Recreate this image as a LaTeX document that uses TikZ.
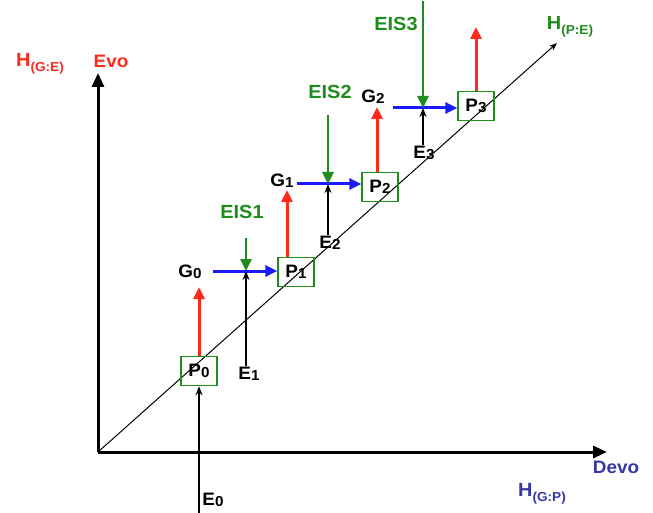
\documentclass[tikz,border=0pt]{standalone}
\usepackage{fontspec}
\setmainfont{Liberation Sans}
\usetikzlibrary{arrows.meta}
\definecolor{evored}{HTML}{FF2A1A}
\definecolor{eisgreen}{HTML}{1E8C1E}
\definecolor{devblue}{HTML}{1A1AFF}
\definecolor{devonavy}{HTML}{3636A8}
\newcommand{\idx}[2]{#1\raisebox{-1pt}{\fontsize{14.5}{14.5}\selectfont #2}}
\newcommand{\hsub}[1]{{\fontsize{19}{19}\selectfont H}\raisebox{-5pt}{\fontsize{13}{13}\selectfont(#1)}}

\begin{document}
\begin{tikzpicture}[x=1pt,y=-1pt,font=\bfseries\fontsize{18}{18}\selectfont,
  lbl/.style={inner sep=1pt,xscale=1.05},
  eislbl/.style={lbl,text=eisgreen,font=\bfseries\fontsize{19}{19}\selectfont},
  pbox/.style={draw=eisgreen,line width=1.6pt,minimum width=34pt,minimum height=29pt,inner sep=0pt,xscale=1.05},
  axis/.style={line width=3pt,-{Triangle[length=14pt,width=12pt]}},
  gen/.style={evored,line width=3pt,-{Triangle[length=12pt,width=11pt]}},
  dev/.style={devblue,line width=3pt,-{Triangle[length=12pt,width=11pt]}},
  eis/.style={eisgreen,line width=2.6pt,-{Triangle[length=12pt,width=11pt]}},
  env/.style={line width=1.6pt,-{Stealth[length=9pt,width=7pt]}}]
\useasboundingbox (0,0) rectangle (653,513);

% axes
\coordinate (o) at (98,452);
\coordinate (evotip) at (98,73);
\coordinate (devotip) at (607,452);
\coordinate (hpetip) at (557,43);
\draw[axis] (o) -- (evotip);
\draw[axis] (o) -- (devotip);
\draw[line width=1pt,-{Stealth[length=8pt,width=6pt]}] (o) -- (hpetip);
\node[lbl,text=evored] (evo) at (111,61) {Evo};
\node[lbl,text=evored] (hge) at (40,64) {\hsub{G:E}};
\node[lbl,text=devonavy] (devo) at (616,467) {Devo};
\node[lbl,text=devonavy] (hgp) at (542,494) {\hsub{G:P}};
\node[lbl,text=eisgreen] (hpe) at (570,27) {\hsub{P:E}};

% phenotypes
\node[pbox] (p0) at (199,371) {\idx{P}{0}};
\node[pbox] (p1) at (296,272) {\idx{P}{1}};
\node[pbox] (p2) at (380,187) {\idx{P}{2}};
\node[pbox] (p3) at (476,106) {\idx{P}{3}};

% genotypes
\node[lbl] (g0) at (190,272) {\idx{G}{0}};
\node[lbl] (g1) at (282,181) {\idx{G}{1}};
\node[lbl] (g2) at (373,97) {\idx{G}{2}};
\coordinate (t0) at (199,287);
\coordinate (t1) at (287,190);
\coordinate (t2) at (377,107);
\coordinate (t3) at (476,27);
\draw[gen] (p0.north -| t0) -- (t0);
\draw[gen] (p1.north -| t1) -- (t1);
\draw[gen] (p2.north -| t2) -- (t2);
\draw[gen] (p3.north -| t3) -- (t3);

% junctions
\coordinate (j0) at (246,271);
\coordinate (j1) at (328,184);
\coordinate (j2) at (423,108);
\draw[dev] (213,0 |- j0) -- (j0 -| p1.west);
\draw[dev] (297,0 |- j1) -- (j1 -| p2.west);
\draw[dev] (393,0 |- j2) -- (j2 -| p3.west);

% EIS
\node[eislbl] (eis1) at (242,212) {EIS1};
\node[eislbl] (eis2) at (330,92) {EIS2};
\node[eislbl] (eis3) at (396,24) {EIS3};
\coordinate (s0) at (246,238);
\coordinate (s1) at (328,115);
\coordinate (s2) at (423,1);
\draw[eis] (s0) -- (j0);
\draw[eis] (s1) -- (j1);
\draw[eis] (s2) -- (j2);

% environments
\node[lbl] (e0) at (213,500) {\idx{E}{0}};
\node[lbl] (e1) at (249,374) {\idx{E}{1}};
\node[lbl] (e2) at (330,243) {\idx{E}{2}};
\node[lbl] (e3) at (424,153) {\idx{E}{3}};
\coordinate (b0) at (199,513);
\draw[env] (b0) -- (p0);
\draw[env] (e1.north -| j0) -- (j0);
\draw[env] (e2.north -| j1) -- (j1);
\draw[env] (e3.north -| j2) -- (j2);
\end{tikzpicture}
\end{document}
